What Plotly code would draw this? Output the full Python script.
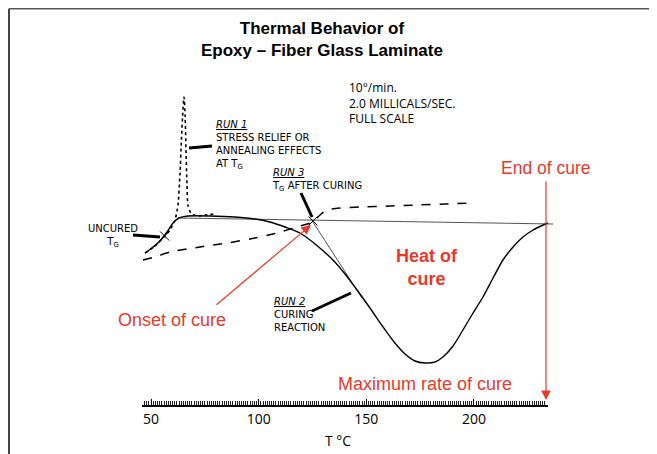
import plotly.graph_objects as go

# ── DATA (temperature in °C, heat flow in arbitrary units) ──
run2_temp = [47.2, 50.4, 54.1, 57.4, 60.2, 63.0, 67.1, 77.4, 89.0, 98.3, 105.2, 112.2,
             119.2, 126.2, 134.5, 140.1, 145.7, 151.7, 157.8, 163.3, 168.0, 172.6,
             177.3, 181.9, 185.6, 190.3, 194.9, 199.6, 204.2, 208.9, 213.5, 218.2,
             222.8, 227.5, 231.2, 234.4]
run2_flow = [15.2, 15.7, 16.4, 17.3, 18.2, 18.7, 18.9, 18.9, 18.8, 18.6, 18.3, 17.8,
             17.2, 16.1, 14.5, 13.1, 11.5, 9.7, 7.8, 6.2, 5.1, 4.4,
             4.2, 4.3, 4.8, 5.9, 7.5, 9.2, 10.8, 12.7, 14.5, 15.8,
             16.8, 17.5, 17.9, 18.2]

run1_temp = [47.2, 51.8, 55.5, 58.8, 61.1, 62.5, 63.4, 64.1, 64.8, 65.3, 65.8, 66.2,
             66.7, 67.1, 68.5, 71.3, 75.0, 79.7]
run1_flow = [15.2, 15.9, 16.7, 17.5, 18.5, 20.0, 23.0, 26.5, 29.5, 30.8, 29.0, 25.5,
             22.0, 20.0, 19.2, 18.9, 19.0, 19.1]

run3_temp = [46.2, 51.8, 58.8, 72.7, 85.3, 96.0, 108.5, 119.2, 125.2, 128.5, 131.7,
             137.8, 147.1, 161.0, 173.6, 186.6, 199.6]
run3_flow = [14.5, 14.8, 15.3, 15.8, 16.2, 16.6, 17.2, 17.9, 18.3, 19.0, 19.5,
             19.7, 19.8, 19.9, 20.0, 20.1, 20.2]

baseline_temp = [62.5, 236.8]
baseline_flow = [18.7, 18.1]
tangent_temp = [125.2, 148.0]
tangent_flow = [18.3, 10.7]

tg_temp = [56.3, 125.2]
tg_flow = [16.9, 18.4]

tick_vals = [50, 100, 150, 200]

# page is offset by the 8px body margin, so the figure covers page pixels 8..657 / 8..454
W, H = 657, 454
OFF = 8
RED = '#e8392d'


def px(x):
    return (x - OFF) / (W - OFF)


def py(y):
    return 1 - (y - OFF) / (H - OFF)


def temp_at(x):
    return (x - 43.5) / 2.152


def flow_at(y):
    return (405 - y) / 10


fig = go.Figure()

fig.add_trace(go.Scatter(x=baseline_temp, y=baseline_flow, mode='lines',
                         line=dict(color='#555', width=1)))
fig.add_trace(go.Scatter(x=tangent_temp, y=tangent_flow, mode='lines',
                         line=dict(color='#555', width=1)))
fig.add_trace(go.Scatter(x=run1_temp, y=run1_flow, mode='lines',
                         line=dict(color='black', width=1.6, dash='dot', shape='spline', smoothing=0.6)))
fig.add_trace(go.Scatter(x=run3_temp, y=run3_flow, mode='lines',
                         line=dict(color='black', width=1.5, dash='dash', shape='spline', smoothing=0.6)))
fig.add_trace(go.Scatter(x=run2_temp, y=run2_flow, mode='lines',
                         line=dict(color='black', width=1.4, shape='spline', smoothing=0.8)))
fig.add_trace(go.Scatter(x=tg_temp, y=tg_flow, mode='markers',
                         marker=dict(symbol='x-thin', size=9, line=dict(color='black', width=1))))
# dummy trace so the ruler axis is drawn
fig.add_trace(go.Scatter(x=tick_vals, y=[None] * len(tick_vals), xaxis='x2', yaxis='y',
                         mode='markers', hoverinfo='skip'))

# leader lines
leaders = [((133, 235), (160, 237), 3), ((189, 148), (212, 146), 3),
           ((301, 193), (312, 217), 3), ((312, 311), (351, 293), 3)]
shapes = []
for (x0, y0), (x1, y1), w in leaders:
    shapes.append(dict(type='line', xref='paper', yref='paper', x0=px(x0), y0=py(y0),
                       x1=px(x1), y1=py(y1), line=dict(color='black', width=w)))
# frame
shapes.append(dict(type='line', xref='paper', yref='paper', x0=px(9), y0=0, x1=px(9),
                   y1=py(8.8), line=dict(color='#444', width=2)))
shapes.append(dict(type='line', xref='paper', yref='paper', x0=px(9), y0=py(8.8), x1=1,
                   y1=py(8.8), line=dict(color='#555', width=1.5)))

annotations = []


def label(text, x, y, size=12, color='black', xanchor='left', yanchor='middle', bold=False,
          family='Open Sans', align='left'):
    if bold:
        text = f'<b>{text}</b>'
    annotations.append(dict(text=text, x=px(x), y=py(y), xref='paper', yref='paper',
                            xanchor=xanchor, yanchor=yanchor, showarrow=False, align=align,
                            font=dict(size=size, color=color, family=family)))


label('Thermal Behavior of<br>Epoxy – Fiber Glass Laminate', 322, 40, size=17,
      xanchor='center', align='center', bold=True, family='Liberation Sans')

label('10°/min.<br>2.0 MILLICALS/SEC.<br>FULL SCALE', 347, 77, size=12, yanchor='top')

small = 'DejaVu Sans'
label('<i><u>RUN 1</u></i><br>STRESS RELIEF OR<br>ANNEALING EFFECTS<br>AT T<sub>G</sub>',
      214, 117, size=10, yanchor='top', family=small)
label('<i><u>RUN 3</u></i><br>T<sub>G</sub> AFTER CURING', 270, 165, size=10,
      yanchor='top', family=small)
label('UNCURED<br>T<sub>G</sub>', 113, 221, size=10, xanchor='center', align='center',
      yanchor='top', family=small)
label('<i><u>RUN 2</u></i><br>CURING<br>REACTION', 272, 294, size=10, yanchor='top',
      family=small)

label('End of cure', 546, 168, size=17.5, color=RED, xanchor='center', family='Liberation Sans')
label('Heat of<br>cure', 427, 267, size=18, color=RED, xanchor='center', align='center',
      bold=True, family='Liberation Sans')
label('Onset of cure', 172, 320, size=18, color=RED, xanchor='center', family='Liberation Sans')
label('Maximum rate of cure', 425, 384, size=18, color=RED, xanchor='center', family='Liberation Sans')
label('T °C', 338, 440, size=14, xanchor='center')

# red arrows
annotations.append(dict(x=px(311), y=py(225), xref='paper', yref='paper', ax=215 - 311,
                        ay=306 - 225, text='', showarrow=True, arrowhead=2, arrowsize=1.6,
                        arrowwidth=1.2, arrowcolor=RED))
annotations.append(dict(x=px(546), y=py(400), xref='paper', yref='paper', ax=0, ay=-220,
                        text='', showarrow=True, arrowhead=2, arrowsize=1.6,
                        arrowwidth=1.2, arrowcolor=RED))

fig.update_layout(
    width=W - OFF, height=H - OFF,
    paper_bgcolor='white', plot_bgcolor='rgba(0,0,0,0)',
    margin=dict(l=0, r=0, t=0, b=0),
    showlegend=False,
    xaxis=dict(range=[temp_at(OFF), temp_at(W)], visible=False),
    yaxis=dict(range=[flow_at(H), flow_at(OFF)], visible=False),
    xaxis2=dict(domain=[px(142), px(548)], range=[temp_at(142), temp_at(548)],
                anchor='free', position=py(406), showline=True, linecolor='black', linewidth=2,
                showgrid=False, zeroline=False, ticks='inside', ticklen=6, tickwidth=1,
                tickcolor='black', tickvals=tick_vals,
                minor=dict(ticks='inside', dtick=1, ticklen=4, tickwidth=0.8, tickcolor='#222'),
                tickfont=dict(size=14, family='Open Sans', color='black')),
    shapes=shapes,
    annotations=annotations,
)

fig.write_html("out.html")
